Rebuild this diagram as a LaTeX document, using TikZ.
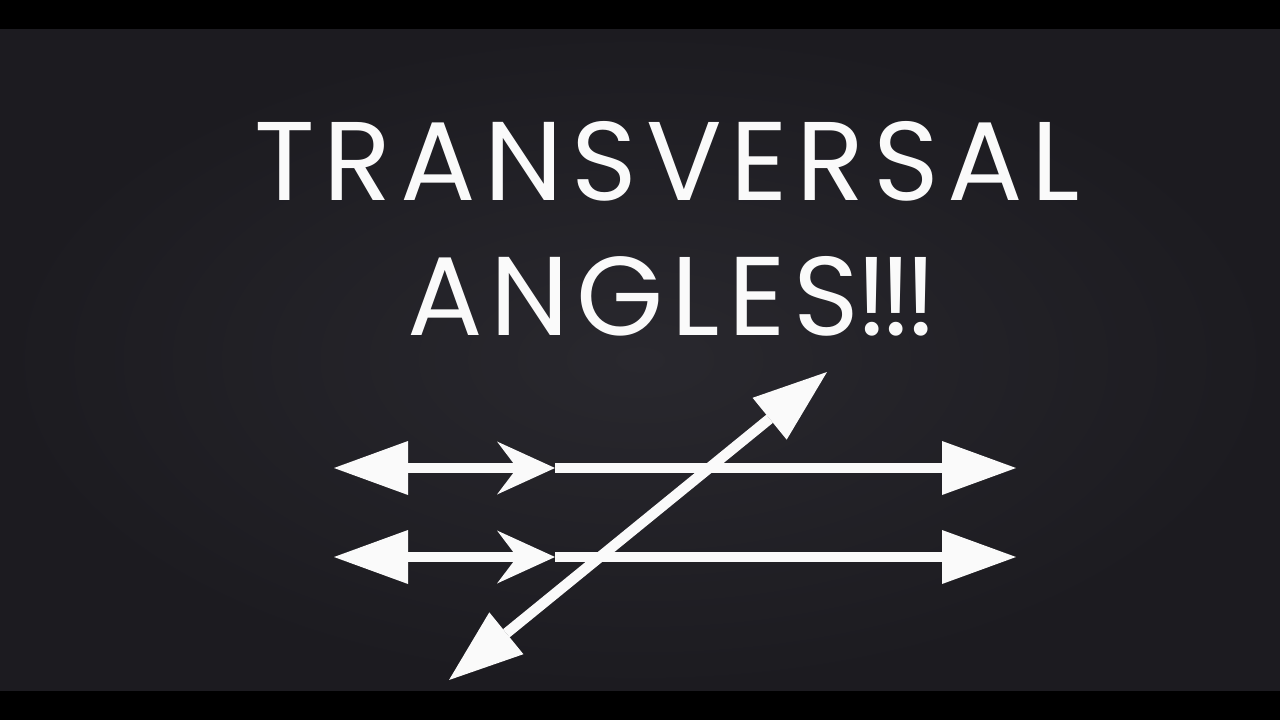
\documentclass[tikz,border=0pt]{standalone}
\usepackage{fontspec}
\setmainfont{Poppins}
\usetikzlibrary{arrows.meta}
\definecolor{boardedge}{HTML}{1C1B20}
\definecolor{boardmid}{HTML}{29282E}
\definecolor{chalk}{HTML}{FAFAFA}
\tikzset{
  title/.style={text=chalk, font=\fontsize{112}{112}\selectfont, anchor=base west, inner sep=0pt},
  ray/.style={draw=chalk, line width=10.5pt},
  headtip/.tip={Triangle[length=74pt, width=54pt, line width=0pt, fill=chalk]},
  marktip/.tip={Stealth[length=58pt, width=53pt, inset=20pt, line width=0pt, fill=chalk]}
}
\begin{document}
\begin{tikzpicture}[x=1pt, y=-1pt]
  \useasboundingbox (0,0) rectangle (1280,720);
  \fill[black] (0,0) rectangle (1280,720);
  \shade[inner color=boardmid, outer color=boardedge] (0,29) rectangle (1280,690);
  % title
  \node[title] (t1) at (254,200)
    {\makebox[826pt][s]{T\hfil R\hfil A\hfil N\hfil S\hfil V\hfil E\hfil R\hfil S\hfil A\hfil L}};
  \node[title] (t2) at (407,335)
    {\makebox[452pt][s]{A\hfil N\hfil G\hfil L\hfil E\hfil S}\kern-4pt!\kern-9pt!\kern-9pt!};
  % parallel lines
  \coordinate (a1) at (334,468);
  \coordinate (m1) at (555,468);
  \coordinate (b1) at (1016,468);
  \coordinate (a2) at (334,557);
  \coordinate (m2) at (555,557);
  \coordinate (b2) at (1016,557);
  \draw[ray, headtip-marktip] (a1) -- (m1);
  \draw[ray, -headtip] (m1) -- (b1);
  \draw[ray, headtip-marktip] (a2) -- (m2);
  \draw[ray, -headtip] (m2) -- (b2);
  % transversal
  \coordinate (c1) at (449,680);
  \coordinate (c2) at (827,372);
  \draw[ray, headtip-headtip] (c1) -- (c2);
\end{tikzpicture}
\end{document}
